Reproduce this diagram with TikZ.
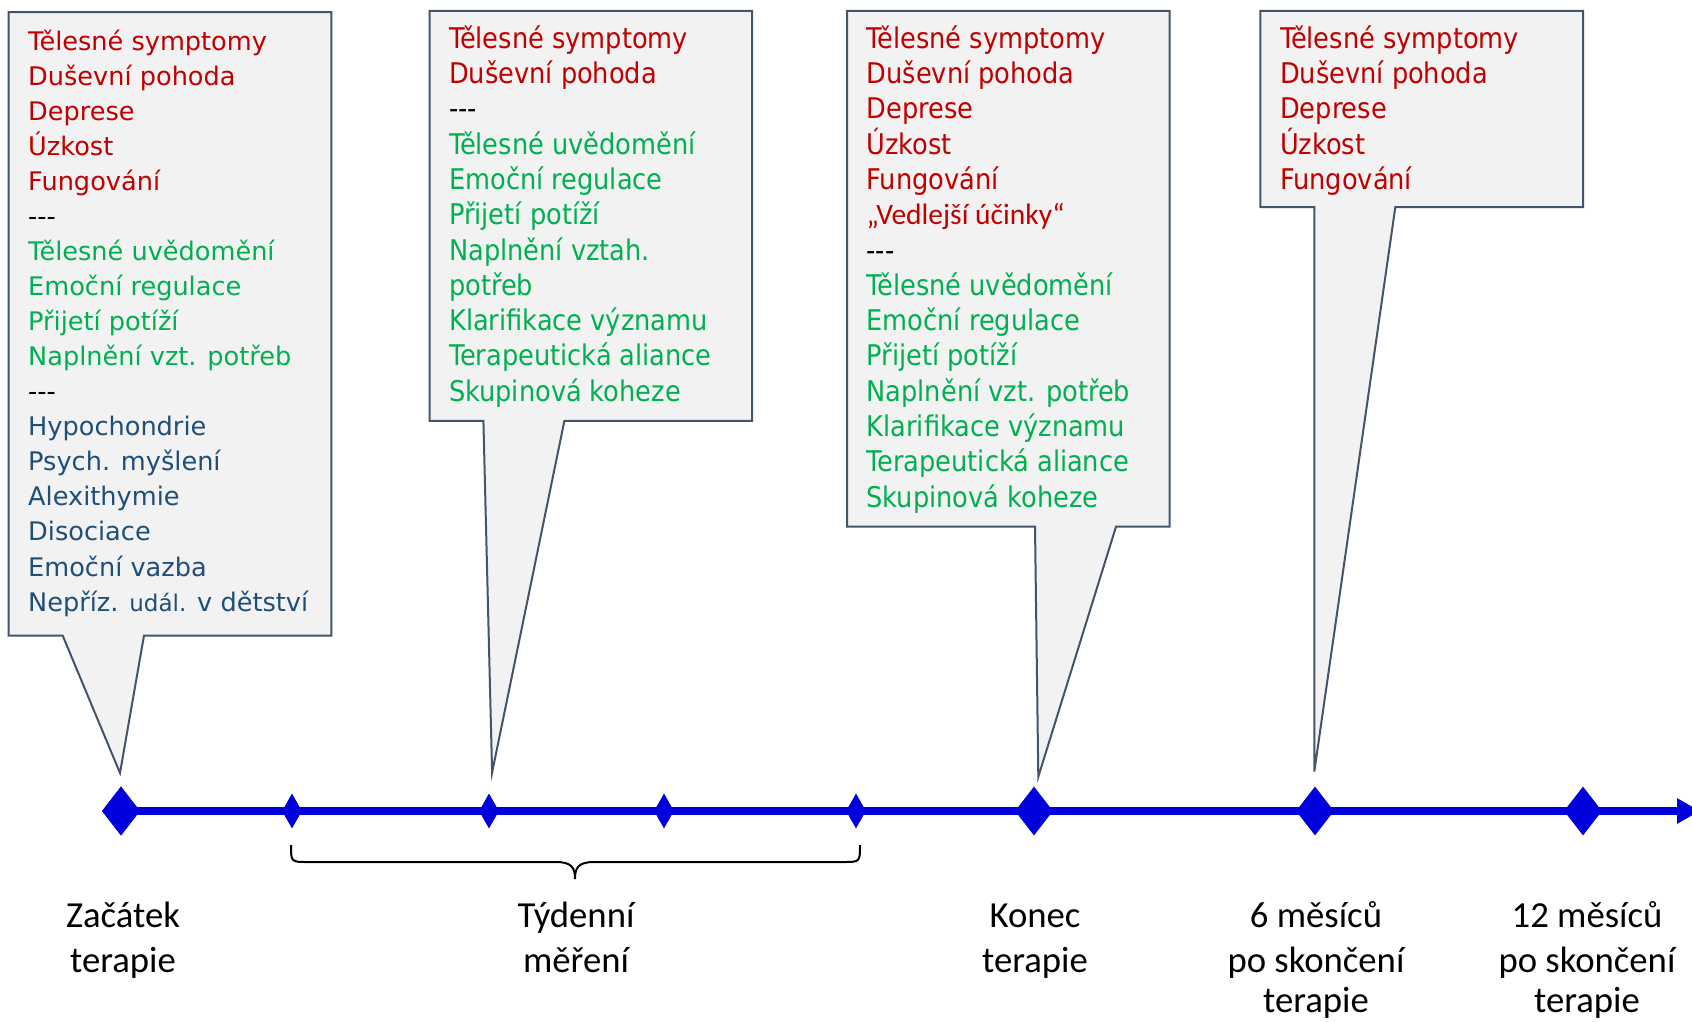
\documentclass[tikz,border=0pt]{standalone}
\usepackage{fontspec}
\setmainfont{DejaVu Sans}
\newfontfamily\verd{DejaVu Sans}
\newfontfamily\taho{DejaVu Sans Condensed}
\newfontfamily\cali{Carlito}
\usetikzlibrary{shapes.geometric,arrows.meta}
\definecolor{cred}{HTML}{C00000}
\definecolor{cgreen}{HTML}{00B050}
\definecolor{cblue}{HTML}{1F4E79}
\definecolor{cborder}{HTML}{44546A}
\definecolor{cfill}{HTML}{F2F2F2}
\definecolor{tline}{RGB}{0,0,221}
\newcommand{\dashes}{-\kern0pt-\kern0pt-}
\tikzset{
  callout/.style={draw=cborder, fill=cfill, line width=2pt, line join=miter},
  boxa/.style={anchor=base west, inner sep=0pt, font=\verd\fontsize{25.6}{30}\selectfont},
  boxb/.style={anchor=base west, inner sep=0pt, font=\taho\fontsize{28.5}{33}\selectfont},
  tred/.style={text=cred}, tgreen/.style={text=cgreen},
  tblue/.style={text=cblue}, tblack/.style={text=black},
  bigdia/.style={diamond, fill=tline, inner sep=0pt, minimum width=38pt, minimum height=49pt},
  smalldia/.style={diamond, fill=tline, inner sep=0pt, minimum width=20pt, minimum height=35pt},
  lab/.style={anchor=base, inner sep=0pt, font=\cali\fontsize{36.7}{44}\selectfont},
  brace/.style={draw=black, line width=2pt},
}
\begin{document}
\begin{tikzpicture}[x=1pt,y=-1pt]
\fill[white] (0,0) rectangle (1692,1021);
\useasboundingbox (0,0) rectangle (1692,1021);

% callouts
\draw[callout] (8.6,12) -- (331.3,12) -- (331.3,635.6) -- (144,635.6) -- (120,773) coordinate (tip1) -- (62.7,635.6) -- (8.6,635.6) -- cycle;
\draw[callout] (429.5,10.8) -- (752.1,10.8) -- (752.1,420.8) -- (564.4,420.8) -- (492.1,772.6) coordinate (tip2) -- (483.4,420.8) -- (429.5,420.8) -- cycle;
\draw[callout] (847.1,10.8) -- (1169.7,10.8) -- (1169.7,526.7) -- (1116,526.7) -- (1038.3,776.7) coordinate (tip3) -- (1035,526.7) -- (847.1,526.7) -- cycle;
\draw[callout] (1260.4,10.8) -- (1583,10.8) -- (1583,207.2) -- (1395.3,207.2) -- (1314.3,771.6) coordinate (tip4) -- (1314.3,207.2) -- (1260.4,207.2) -- cycle;

% box 1 text
\foreach \t/\s [count=\i from 0] in {
  Tělesné symptomy/tred, Duševní pohoda/tred, Deprese/tred, Úzkost/tred, Fungování/tred,
  \dashes/tblack,
  Tělesné uvědomění/tgreen, Emoční regulace/tgreen, Přijetí potíží/tgreen, Naplnění vzt. potřeb/tgreen,
  \dashes/tblack,
  Hypochondrie/tblue, Psych. myšlení/tblue, Alexithymie/tblue, Disociace/tblue, Emoční vazba/tblue,
  {Nepříz. {\fontsize{23}{26}\selectfont udál.} v dětství}/tblue}
  \node[boxa,\s] (ba\i) at (28,{50+35.07*\i}) {\t};

% box 2 text
\foreach \t/\s [count=\i from 0] in {
  Tělesné symptomy/tred, Duševní pohoda/tred,
  \dashes/tblack,
  Tělesné uvědomění/tgreen, Emoční regulace/tgreen, Přijetí potíží/tgreen, Naplnění vztah./tgreen,
  potřeb/tgreen, Klarifikace významu/tgreen, Terapeutická aliance/tgreen, Skupinová koheze/tgreen}
  \node[boxb,\s] (bb\i) at (449,{48.2+35.3*\i}) {\t};

% box 3 text
\foreach \t/\s [count=\i from 0] in {
  Tělesné symptomy/tred, Duševní pohoda/tred, Deprese/tred, Úzkost/tred, Fungování/tred,
  {{\cali\fontsize{29.5}{32}\selectfont „Vedlejší účinky“}}/tred,
  \dashes/tblack,
  Tělesné uvědomění/tgreen, Emoční regulace/tgreen, Přijetí potíží/tgreen, Naplnění vzt. potřeb/tgreen,
  Klarifikace významu/tgreen, Terapeutická aliance/tgreen, Skupinová koheze/tgreen}
  \node[boxb,\s] (bc\i) at (866.5,{48.2+35.3*\i}) {\t};

% box 4 text
\foreach \t/\s [count=\i from 0] in {
  Tělesné symptomy/tred, Duševní pohoda/tred, Deprese/tred, Úzkost/tred, Fungování/tred}
  \node[boxb,\s] (bd\i) at (1280,{48.2+35.3*\i}) {\t};

% timeline
\coordinate (tend) at (1700,811);
\node[bigdia] (d1) at (121,811) {};
\draw[tline, line width=8pt, -{Triangle[length=23pt,width=24pt]}] (d1.center) -- (tend);
\node[bigdia] (d1) at (121,811) {};
\node[smalldia] (d2) at (292,811) {};
\node[smalldia] (d3) at (489,811) {};
\node[smalldia] (d4) at (664,811) {};
\node[smalldia] (d5) at (856,811) {};
\node[bigdia] (d6) at (1034,811) {};
\node[bigdia] (d7) at (1315,811) {};
\node[bigdia] (d8) at (1583,811) {};

% brace
\draw[brace] (291,845) .. controls (291,862) and (291,862) .. (308,862) -- (556,862)
  .. controls (572,862) and (575,868) .. (575,879)
  .. controls (575,868) and (578,862) .. (594,862) -- (843,862)
  .. controls (860,862) and (860,862) .. (860,845);

% labels
\node[lab] (l1a) at (123,927) {Začátek};
\node[lab] (l1b) at (123,972) {terapie};
\node[lab] (l2a) at (576,927) {Týdenní};
\node[lab] (l2b) at (576,972) {měření};
\node[lab] (l3a) at (1035,927) {Konec};
\node[lab] (l3b) at (1035,972) {terapie};
\node[lab] (l4a) at (1316,927) {6 měsíců};
\node[lab] (l4b) at (1316,972) {po skončení};
\node[lab] (l4c) at (1316,1012) {terapie};
\node[lab] (l5a) at (1587,927) {12 měsíců};
\node[lab] (l5b) at (1587,972) {po skončení};
\node[lab] (l5c) at (1587,1012) {terapie};
\end{tikzpicture}
\end{document}
